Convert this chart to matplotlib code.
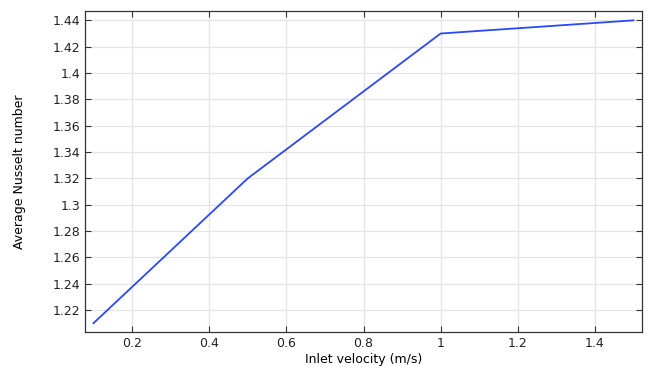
import matplotlib.pyplot as plt
from matplotlib.ticker import FuncFormatter

# inlet velocity vs average Nusselt number
velocity = [0.1, 0.5, 1.0, 1.5]
nusselt = [1.21, 1.32, 1.43, 1.44]

xticks = [0.2, 0.4, 0.6, 0.8, 1.0, 1.2, 1.4]
yticks = [1.22, 1.24, 1.26, 1.28, 1.30, 1.32, 1.34, 1.36, 1.38, 1.40, 1.42, 1.44]

fig = plt.figure(figsize=(6.53, 3.69), dpi=100)
ax = fig.add_axes([85 / 653, 1 - 332 / 369, 557 / 653, 321 / 369])

ax.plot(velocity, nusselt, color='#2a48f7', lw=1.3)

ax.set_xlim(0.078, 1.522)
ax.set_ylim(1.2033, 1.4471)
ax.set_xticks(xticks)
ax.set_yticks(yticks)
fmt = FuncFormatter(lambda v, p: '%g' % round(v, 4))
ax.xaxis.set_major_formatter(fmt)
ax.yaxis.set_major_formatter(fmt)

ax.grid(True, color='#e4e4e4', lw=0.9)
ax.set_axisbelow(True)
ax.tick_params(direction='in', top=True, right=True, length=4, width=0.8,
               color='#333333', labelsize=9, labelcolor='#222222')
for s in ax.spines.values():
    s.set_color('#333333')
    s.set_linewidth(0.9)

ax.set_xlabel('Inlet velocity (m/s)', fontsize=9, labelpad=2)
ax.set_ylabel('Average Nusselt number', fontsize=9, labelpad=19)

fig.savefig('out.png', dpi=100)
